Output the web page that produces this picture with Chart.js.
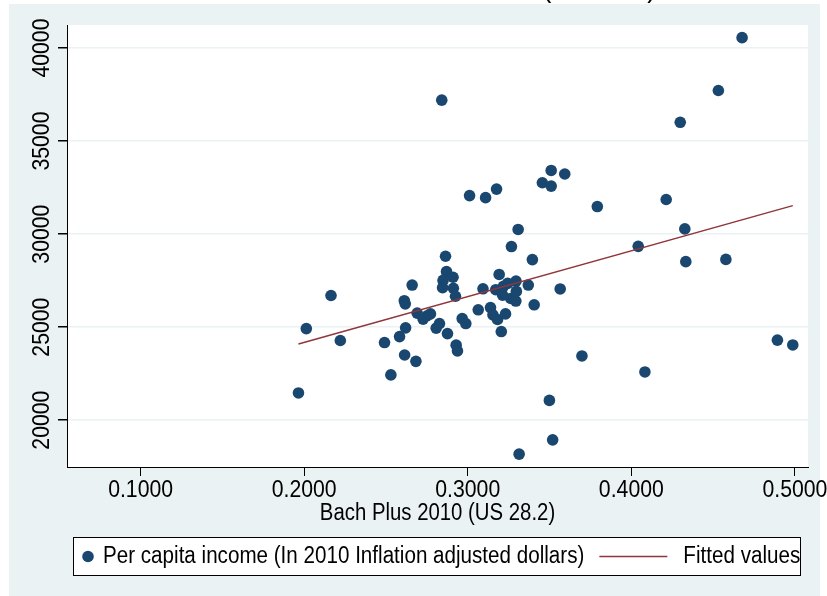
<!DOCTYPE html>
<html>
<head>
	<meta charset="utf-8">
	<title>Per capita income vs Bach Plus 2010</title>
	<script src="https://cdn.jsdelivr.net/npm/chart.js@4.4.1/dist/chart.umd.min.js"></script>
	<style>
		html, body { margin: 0; padding: 0; background: #ffffff; }
		#wrap { width: 827px; height: 596px; }
	</style>
</head>
<body>
	<div id="wrap"><canvas id="myChart" width="827" height="596"></canvas></div>
	<script>
		// Bach Plus 2010 share (x) and per capita income (y)
		var bachPlus = [
			0.1965, 0.2013, 0.2164, 0.2221, 0.2491, 0.2530, 0.2583, 0.2612, 0.2618, 0.2620,
			0.2614, 0.2683, 0.2660, 0.2691, 0.2727, 0.2752, 0.2772, 0.2807, 0.2827, 0.2876,
			0.2929, 0.2937, 0.2864, 0.2870, 0.2849, 0.2910, 0.2846, 0.2912, 0.2925, 0.2966,
			0.2988, 0.3064, 0.3093, 0.3139, 0.3154, 0.3182, 0.3205, 0.3231, 0.3192, 0.3171,
			0.3213, 0.3218, 0.3244, 0.3263, 0.3295, 0.3297, 0.3294, 0.3267, 0.3308, 0.3370,
			0.3406, 0.3395, 0.3565, 0.3499, 0.3519, 0.3314, 0.2841, 0.3011, 0.3109, 0.3176,
			0.3456, 0.3510, 0.3510, 0.3593, 0.4677, 0.4532, 0.4299, 0.3792, 0.4213, 0.4327,
			0.4042, 0.4333, 0.4578, 0.3698, 0.4083, 0.4893, 0.4987
		];
		var income = [
			21460, 24920, 26700, 24280, 24170, 22430, 24490, 26420, 26250, 24960,
			23500, 23160, 27260, 25750, 25430, 25610, 25710, 24940, 25190, 24650,
			24030, 23720, 28810, 27980, 27510, 27680, 27120, 27090, 26660, 25460,
			25190, 25930, 27060, 26050, 25660, 25410, 24760, 25710, 27830, 27010,
			26720, 27190, 27350, 26540, 27470, 26920, 26400, 29330, 30250, 27260,
			26200, 28630, 27050, 21060, 18940, 18170, 37200, 32070, 31960, 32420,
			32760, 33420, 32580, 33230, 40560, 37720, 36010, 31480, 31860, 30280,
			29340, 28520, 28640, 23450, 22590, 24300, 24040
		];
		// fitted line end points
		var fitX = [0.1965, 0.4987];
		var fitY = [24090, 31530];

		var xTicks = [0.1, 0.2, 0.3, 0.4, 0.5];
		var yTicks = [20000, 25000, 30000, 35000, 40000];

		var seriesNames = ['Per capita income (In 2010 Inflation adjusted dollars)', 'Fitted values'];
		var xTitle = 'Bach Plus 2010 (US 28.2)';
		var chartTitle = 'Income vs Bach Plus 2010 (US 28.2)';

		var NAVY = '#1a476f';
		var MAROON = '#90353b';
		var BG = '#eaf2f3';
		var FONT = "'Liberation Sans', Arial, sans-serif";
		var SQUEEZE = 0.885;   // Stata's Helvetica is narrower than Arial

		var points = bachPlus.map(function(x, i) { return {x: x, y: income[i]}; });
		var fitted = fitX.map(function(x, i) { return {x: x, y: fitY[i]}; });

		// narrow text: draw with a horizontal squeeze
		function narrowText(c, str, x, y, size, align, rot) {
			c.save();
			c.translate(x, y);
			if (rot) c.rotate(rot);
			c.scale(SQUEEZE, 1);
			c.font = size + 'px ' + FONT;
			c.textAlign = align || 'center';
			c.textBaseline = 'middle';
			c.fillStyle = '#000000';
			c.fillText(str, 0, 0);
			c.restore();
		}
		function narrowWidth(c, str, size) {
			c.save();
			c.font = size + 'px ' + FONT;
			var w = c.measureText(str).width * SQUEEZE;
			c.restore();
			return w;
		}

		var stataFrame = {
			id: 'stataFrame',
			beforeDraw: function(chart) {
				var c = chart.ctx, a = chart.chartArea;
				c.save();
				c.fillStyle = '#ffffff';
				c.fillRect(0, 0, chart.width, chart.height);
				c.fillStyle = BG;
				c.fillRect(9, 4, 811, chart.height - 4);
				c.fillStyle = '#ffffff';
				c.fillRect(a.left, a.top, a.right - a.left, a.bottom - a.top);
				c.restore();
			},
			afterDraw: function(chart) {
				var c = chart.ctx;
				var xs = chart.scales.x, ys = chart.scales.y;

				// title, mostly above the picture
				c.save();
				c.fillStyle = '#000000';
				c.font = '30px ' + FONT;
				c.translate(656, -3);
				c.scale(SQUEEZE, 1);
				c.textAlign = 'right';
				c.textBaseline = 'alphabetic';
				c.fillText(chartTitle, 0, 0);
				c.restore();

				// axis tick labels from the scales
				xs.ticks.forEach(function(t) {
					narrowText(c, t.label, xs.getPixelForValue(t.value), xs.top + 23, 24, 'center');
				});
				ys.ticks.forEach(function(t) {
					narrowText(c, t.label, ys.left + 33, ys.getPixelForValue(t.value), 24, 'center', -Math.PI / 2);
				});
				narrowText(c, xTitle, (xs.left + xs.right) / 2, xs.top + 47, 23, 'center');

				// legend
				var bx = 73, by = 537, bw = 727, bh = 38, fs = 23.3;
				c.save();
				c.fillStyle = '#ffffff';
				c.fillRect(bx, by, bw, bh);
				c.strokeStyle = '#000000';
				c.lineWidth = 1;
				c.strokeRect(bx + 0.5, by + 0.5, bw, bh);
				c.restore();
				var cy = by + bh / 2 + 0.5;
				var ds = chart.data.datasets;
				c.save();
				c.fillStyle = ds[0].backgroundColor;
				c.beginPath();
				c.arc(88, cy, 5.8, 0, Math.PI * 2);
				c.fill();
				c.restore();
				narrowText(c, ds[0].label, 103, cy, fs, 'left');
				var lx = 103 + narrowWidth(c, ds[0].label, fs) + 15;
				c.save();
				c.strokeStyle = ds[1].borderColor;
				c.lineWidth = 1.5;
				c.beginPath();
				c.moveTo(lx, cy);
				c.lineTo(lx + 68, cy);
				c.stroke();
				c.restore();
				narrowText(c, ds[1].label, lx + 84, cy, fs, 'left');
			}
		};

		var ctx = document.getElementById('myChart').getContext('2d');
		var myChart = new Chart(ctx, {
			type: 'scatter',
			data: {
				datasets: [{
					label: seriesNames[0],
					data: points,
					backgroundColor: NAVY,
					borderColor: NAVY,
					borderWidth: 0,
					pointRadius: 5.8,
					order: 2
				}, {
					label: seriesNames[1],
					data: fitted,
					showLine: true,
					borderColor: MAROON,
					backgroundColor: MAROON,
					borderWidth: 1.5,
					pointRadius: 0,
					order: 1
				}]
			},
			options: {
				responsive: false,
				animation: false,
				devicePixelRatio: 1,
				layout: { padding: { left: 9, right: 19, top: 25, bottom: 69 } },
				scales: {
					x: {
						type: 'linear',
						min: 0.055,
						max: 0.508,
						afterBuildTicks: function(s) { s.ticks = xTicks.map(function(v) { return {value: v}; }); },
						afterFit: function(s) { s.height = 60; },
						grid: { drawOnChartArea: false, drawTicks: true, tickLength: 9, tickColor: '#000000' },
						border: { display: true, color: '#000000', width: 1 },
						ticks: {
							display: false,
							callback: function(v) { return Number(v).toFixed(4); }
						}
					},
					y: {
						type: 'linear',
						min: 17480,
						max: 41240,
						afterBuildTicks: function(s) { s.ticks = yTicks.map(function(v) { return {value: v}; }); },
						afterFit: function(s) { s.width = 58; },
						grid: { color: BG, lineWidth: 1.5, drawTicks: true, tickLength: 9, tickColor: '#000000' },
						border: { display: true, color: '#000000', width: 1 },
						ticks: {
							display: false,
							callback: function(v) { return String(v); }
						}
					}
				},
				plugins: {
					legend: { display: false },
					tooltip: { enabled: false }
				}
			},
			plugins: [stataFrame]
		});
	</script>
</body>
</html>
